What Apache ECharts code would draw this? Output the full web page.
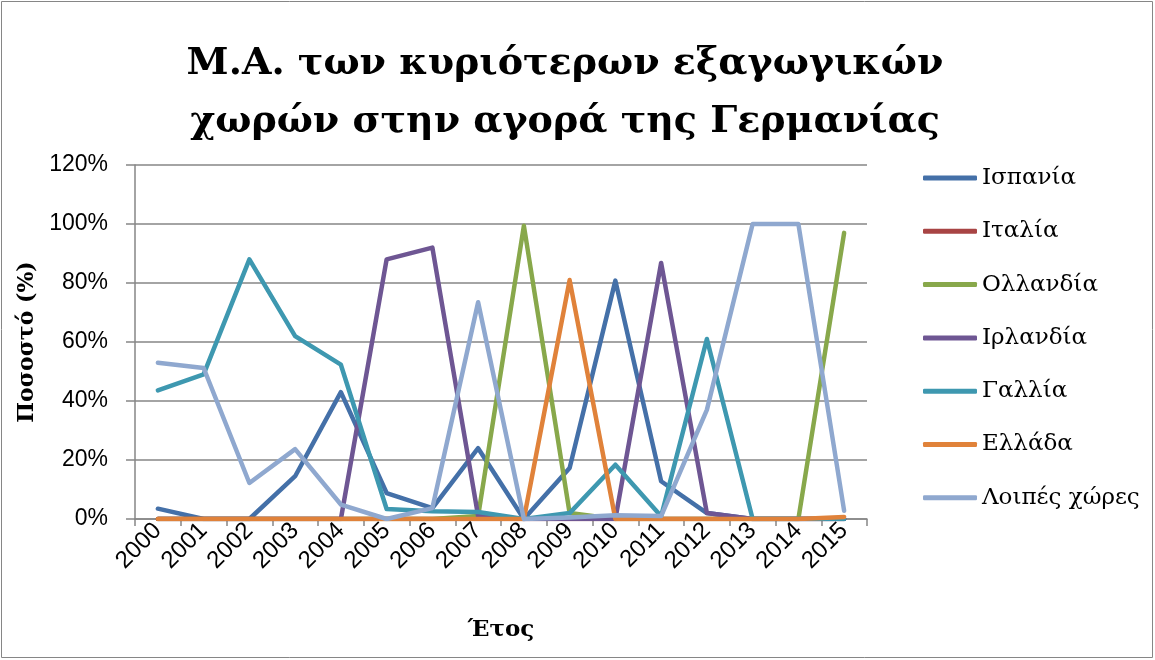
<!DOCTYPE html>
<html><head><meta charset="utf-8">
<script src="https://cdn.jsdelivr.net/npm/echarts@6/dist/echarts.min.js"></script>
<style>html,body{margin:0;padding:0;background:#fff}#c{width:1155px;height:660px}</style>
</head><body><div id="c"></div>
<script>
const years = ['2000','2001','2002','2003','2004','2005','2006','2007','2008','2009','2010','2011','2012','2013','2014','2015'];
const spain   = [3.5,0,0,14.5,43,8.8,3.7,24,0,17.3,80.8,12.8,2,0,0,0];
const italy   = [0,0,0,0,0,0,0,0,0,0,0,0,0,0,0,0];
const netherl = [0,0,0,0,0,0,0,1,99.4,2,0,0,0,0,0,97];
const ireland = [0,0,0,0,0,88,92,1,0,0,0,86.8,2,0,0,0];
const france  = [43.6,49,88,62,52.3,3.4,2.6,2.4,0,2,18.4,0.9,61,0,0,0];
const greece  = [0,0,0,0,0,0,0,0,0,81,0,0,0,0,0,0.7];
const others  = [53,51.2,12.2,23.7,4.9,0,3.7,73.5,0,0.5,1.3,1,37,100,100,2.8];
const names = ['Ισπανία','Ιταλία','Ολλανδία','Ιρλανδία','Γαλλία','Ελλάδα','Λοιπές χώρες'];
const colors = ['#4470A8','#A84444','#88A84B','#6E5693','#3E98B0','#E0823A','#8FA8CF'];
const data = [spain, italy, netherl, ireland, france, greece, others];

const chart = echarts.init(document.getElementById('c'));
chart.setOption({
  animation:false,
  color: colors,
  title:{text:'Μ.Α. των κυριότερων εξαγωγικών\nχωρών στην αγορά της Γερμανίας', left:560, top:30, textAlign:'center',
    textStyle:{fontFamily:'DejaVu Serif', fontWeight:'bold', fontSize:38, lineHeight:58, color:'#000'}},
  graphic:[{type:'rect', shape:{x:1.5,y:1.5,width:1151,height:656}, style:{fill:'none', stroke:'#868686', lineWidth:1}}],
  legend:{orient:'vertical', left:918, top:161, itemGap:29.3, itemWidth:54, itemHeight:5, icon:'roundRect',
    textStyle:{fontFamily:'DejaVu Serif', fontSize:23, lineHeight:24, color:'#000'}, data:names},
  grid:{left:135, right:288, top:165, bottom:141},
  xAxis:{type:'category', data:years, boundaryGap:true,
    name:'Έτος', nameLocation:'middle', nameGap:100,
    nameTextStyle:{fontFamily:'DejaVu Serif', fontWeight:'bold', fontSize:23, color:'#000'},
    axisLine:{lineStyle:{color:'#868686', width:1.5}},
    axisTick:{show:true, length:7, lineStyle:{color:'#868686', width:1.5}},
    axisLabel:{rotate:45, fontFamily:'Liberation Sans', fontSize:24, color:'#000', margin:8, interval:0}},
  yAxis:{type:'value', min:0, max:120, interval:20,
    name:'Ποσοστό (%)', nameLocation:'middle', nameGap:88,
    nameTextStyle:{fontFamily:'DejaVu Serif', fontWeight:'bold', fontSize:22, color:'#000'},
    axisLine:{show:true, lineStyle:{color:'#868686', width:1.5}},
    axisTick:{show:true, length:9, lineStyle:{color:'#868686', width:1.5}},
    splitLine:{lineStyle:{color:'#868686', width:1.5}},
    axisLabel:{formatter: v => v + '%', fontFamily:'Liberation Sans', fontSize:23, color:'#000', margin:27}},
  series: names.map((n,i)=>({name:n, type:'line', data:data[i], symbol:'none',
    lineStyle:{width:4.5, color:colors[i], cap:'round', join:'round'}, itemStyle:{color:colors[i]}}))
});
</script></body></html>
